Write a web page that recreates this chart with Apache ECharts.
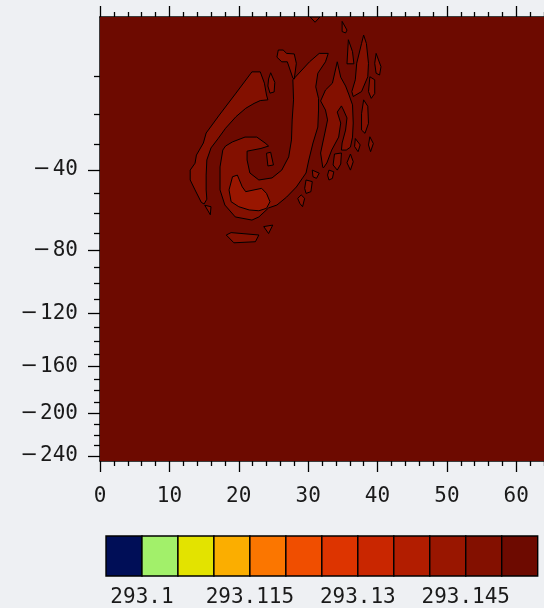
<!DOCTYPE html>
<html><head><meta charset="utf-8">
<script src="https://cdn.jsdelivr.net/npm/echarts@6/dist/echarts.min.js"></script>
<style>html,body{margin:0;padding:0;background:#eef0f3;}#c{width:544px;height:608px;}</style>
</head><body><div id="c"></div>
<script>
// ---------- data ----------
const xRange = [0, 64];
const yRange = [-245, 0];
const xMajorTicks = [0, 10, 20, 30, 40, 50, 60];
const xMinorTicks = [2,4,6,8,12,14,16,18,22,24,26,28,32,34,36,38,42,44,46,48,52,54,56,58,62,64];
const yMajorTicks = [-40, -80, -120, -160, -200, -240];
const yMinorTicks = [-10,-20,-30,-50,-60,-70,-90,-100,-110,-130,-140,-150,-170,-180,-190,-210,-220,-230];
const contourLevels = [293.1,293.105,293.11,293.115,293.12,293.125,293.13,293.135,293.14,293.145,293.15];
const colorbarEdges = [293.095,293.1,293.105,293.11,293.115,293.12,293.125,293.13,293.135,293.14,293.145,293.15,293.155];
const levelColors = ['#000e57','#a2f06a','#e3e300','#fbae00','#fb7600','#f04e00','#dd3400','#c92600','#b21d00','#991600','#831000','#6d0a00'];
const colorbarLabels = ['293.1','293.115','293.13','293.145'];
const colorbarLabelValues = [293.1, 293.115, 293.13, 293.145];

// contour regions: [x, y] vertices in data space
const domain = [[0,0],[64,0],[64,-245],[0,-245]];
const outerBand = [[21.9,-9.0],[23.1,-9.0],[23.7,-11.6],[24.0,-14.6],[24.2,-15.9],[23.1,-16.1],[22.2,-16.9],[21.0,-18.3],[19.6,-20.8],[18.1,-24.5],[17.0,-28.1],[16.0,-31.4],[15.4,-36.0],[15.3,-42.2],[15.3,-48.7],[15.4,-53.0],[15.0,-55.3],[14.6,-54.5],[13.7,-48.7],[13.0,-44.3],[13.0,-40.1],[13.7,-37.3],[13.9,-34.1],[14.9,-29.6],[15.3,-26.1],[17.2,-20.3],[19.6,-14.1]];
const hook = [[27.8,-10.8],[30.2,-6.9],[31.6,-5.3],[32.9,-5.3],[32.5,-6.9],[31.4,-9.3],[31.1,-12.5],[31.5,-15.5],[31.5,-18.8],[31.4,-24.1],[30.7,-29.6],[30.1,-36.0],[29.7,-41.3],[28.3,-47.4],[26.9,-52.0],[25.5,-55.8],[24.3,-57.2],[22.9,-61.7],[21.9,-63.3],[19.5,-61.7],[18.0,-55.8],[17.3,-48.7],[17.3,-38.8],[17.7,-32.2],[18.1,-30.7],[19.1,-29.2],[20.9,-27.5],[22.6,-27.5],[23.8,-29.6],[24.3,-30.7],[23.2,-31.6],[21.2,-32.6],[21.2,-36.0],[21.6,-41.3],[22.9,-44.3],[24.8,-43.4],[26.2,-40.1],[27.2,-34.8],[27.6,-28.5],[27.7,-21.8],[27.9,-15.9]];
const innerC = [[19.1,-42.9],[19.8,-42.2],[20.5,-47.3],[21.0,-49.5],[22.2,-48.7],[23.3,-48.0],[24.0,-50.3],[24.5,-54.2],[24.0,-57.4],[22.9,-58.6],[21.5,-58.2],[20.0,-56.6],[18.9,-54.2],[18.6,-48.7]];
const streak = [[34.2,-6.9],[34.7,-10.2],[35.4,-12.3],[35.9,-14.6],[36.4,-17.3],[36.5,-22.8],[36.4,-27.5],[36.1,-31.1],[35.5,-32.2],[34.8,-32.2],[34.9,-29.6],[35.4,-25.1],[35.6,-21.2],[35.1,-18.8],[34.8,-17.6],[34.2,-19.4],[34.7,-22.8],[34.4,-27.5],[33.4,-32.2],[32.7,-37.2],[32.2,-39.2],[32.1,-38.8],[31.8,-33.3],[32.1,-29.6],[32.5,-25.1],[32.8,-21.8],[32.5,-18.8],[31.8,-16.2],[32.5,-13.3],[33.5,-11.6]];
const innerTri = [[24.0,-33.4],[24.6,-33.0],[25.0,-38.0],[24.2,-38.4]];
const drop = [[24.6,-9.2],[25.2,-11.4],[25.1,-13.8],[24.5,-14.1],[24.2,-12.3],[24.3,-10.6]];
const wedge = [[25.7,-4.7],[26.4,-4.7],[26.9,-5.3],[28.0,-5.4],[28.3,-7.2],[28.0,-10.6],[27.8,-10.4],[27.0,-6.9],[26.2,-6.9],[25.5,-6.0]];
const topNotch = [[30.3,0],[31.7,0],[31.0,-0.6]];
const sliverA = [[34.9,-0.5],[35.6,-1.6],[35.4,-2.0],[34.9,-1.8]];
const sliverB = [[35.8,-3.0],[36.4,-5.0],[36.6,-7.3],[35.6,-7.3]];
const sliverC = [[38.0,-2.3],[38.4,-3.6],[38.7,-7.2],[38.6,-10.1],[37.7,-13.7],[36.5,-15.0],[36.3,-13.7],[36.8,-10.8],[37.0,-7.2],[37.7,-3.6]];
const sliverD = [[39.8,-5.3],[40.5,-7.9],[40.3,-9.7],[39.8,-9.3],[39.6,-7.2]];
const sliverE = [[38.9,-10.1],[39.6,-10.8],[39.6,-14.2],[39.1,-15.5],[38.7,-13.7]];
const sliverF = [[38.0,-15.9],[38.6,-17.7],[38.7,-22.9],[38.2,-26.2],[37.7,-25.1],[37.7,-19.9]];
const diamond1 = [[38.9,-27.4],[39.4,-29.8],[39.0,-32.8],[38.7,-30.3]];
const diamond2 = [[36.8,-28.0],[37.5,-30.3],[37.2,-32.8],[36.7,-30.9]];
const diamond3 = [[36.1,-33.7],[36.5,-36.7],[36.1,-40.1],[35.6,-37.1]];
const diamond4 = [[30.6,-40.1],[31.6,-41.4],[31.2,-43.6],[30.7,-42.9]];
const diamond5 = [[33.0,-40.1],[33.7,-40.8],[33.5,-43.6],[33.0,-44.3],[32.8,-42.2]];
const diamond6 = [[29.7,-44.3],[30.6,-45.0],[30.4,-49.5],[29.7,-50.3],[29.5,-48.0]];
const diamond7 = [[29.0,-51.0],[29.5,-52.6],[29.2,-56.6],[28.8,-55.0],[28.5,-52.6]];
const quad = [[33.8,-33.7],[34.8,-33.3],[34.7,-37.6],[34.2,-40.1],[33.6,-38.0]];
const triBelowC = [[23.6,-66.7],[24.9,-65.9],[24.3,-70.4]];
const bottomBand = [[18.2,-71.2],[18.9,-69.9],[22.9,-71.2],[22.4,-74.9],[19.3,-75.5]];
const triLeft = [[15.1,-55.9],[16.0,-56.6],[15.9,-60.6]];

// region list: [vertices, colour class index, outlined]
const fieldRegions = [
  [domain, 11, false],
  [outerBand, 10, true], [hook, 10, true], [streak, 10, true], [innerTri, 10, true],
  [drop, 10, true], [wedge, 10, true], [topNotch, 10, true],
  [sliverA, 10, true], [sliverB, 10, true], [sliverC, 10, true], [sliverD, 10, true],
  [sliverE, 10, true], [sliverF, 10, true],
  [diamond1, 10, true], [diamond2, 10, true], [diamond3, 10, true], [diamond4, 10, true],
  [diamond5, 10, true], [diamond6, 10, true], [diamond7, 10, true], [quad, 10, true],
  [triBelowC, 10, true], [bottomBand, 10, true], [triLeft, 10, true],
  [innerC, 9, true]
];

// ---------- chart ----------
const yT = v => -Math.sqrt(3 - v);          // irregular (stretched) depth axis
const FONT = 'DejaVu Sans Mono';
const TXT = '#1a1a1a';
const tickStyle = {color: '#000', width: 1.3};

const chart = echarts.init(document.getElementById('c'), null, {renderer: 'canvas'});
const fmtY = t => {
  const d = t * t - 3;
  let best = yMajorTicks[0];
  yMajorTicks.forEach(v => { if (Math.abs(-v - d) < Math.abs(-best - d)) best = v; });
  return '{m|\u2212}' + Math.abs(best);
};

chart.setOption({
  animation: false,
  backgroundColor: '#eef0f3',
  grid: [
    {left: 100, top: 17, width: 452.3, height: 444, containLabel: false},
    {left: 106, top: 536, width: 431.7, height: 40, containLabel: false}
  ],
  xAxis: [
    {gridIndex: 0, type: 'value', min: xRange[0], max: xRange[1], position: 'bottom',
     axisLine: {show: true, lineStyle: {color: '#000', width: 1.5}},
     axisTick: {show: true, length: 11, customValues: xMajorTicks, lineStyle: tickStyle},
     axisLabel: {show: true, customValues: xMajorTicks, margin: 25, fontSize: 21, fontFamily: FONT, color: TXT},
     splitLine: {show: false}},
    {gridIndex: 0, type: 'value', min: xRange[0], max: xRange[1], position: 'bottom',
     axisLine: {show: false},
     axisTick: {show: true, length: 5, customValues: xMinorTicks, lineStyle: tickStyle},
     axisLabel: {show: false}, splitLine: {show: false}},
    {gridIndex: 0, type: 'value', min: xRange[0], max: xRange[1], position: 'top',
     axisLine: {show: true, lineStyle: {color: '#000', width: 1.5}},
     axisTick: {show: true, length: 11, customValues: xMajorTicks, lineStyle: tickStyle},
     axisLabel: {show: false}, splitLine: {show: false}},
    {gridIndex: 0, type: 'value', min: xRange[0], max: xRange[1], position: 'top',
     axisLine: {show: false},
     axisTick: {show: true, length: 5, customValues: xMinorTicks, lineStyle: tickStyle},
     axisLabel: {show: false}, splitLine: {show: false}},
    {gridIndex: 1, type: 'value', min: colorbarEdges[0], max: colorbarEdges[colorbarEdges.length - 1],
     axisLine: {show: false}, axisTick: {show: false}, splitLine: {show: false},
     axisLabel: {show: true, customValues: colorbarLabelValues, margin: 11, fontSize: 21, fontFamily: FONT, color: TXT,
       formatter: v => colorbarLabels[colorbarLabelValues.indexOf(v)] ?? String(v)}}
  ],
  yAxis: [
    {gridIndex: 0, type: 'value', min: yT(yRange[0]), max: yT(yRange[1]), position: 'left',
     axisLine: {show: true, lineStyle: {color: '#000', width: 1.5}},
     axisTick: {show: true, length: 12, customValues: yMajorTicks.map(yT), lineStyle: tickStyle},
     axisLabel: {show: true, customValues: yMajorTicks.map(yT), margin: 22, fontSize: 21, fontFamily: FONT, color: TXT, formatter: fmtY,
       rich: {m: {fontFamily: 'DejaVu Sans', fontSize: 21, color: TXT, padding: [0, 2, 0, 0]}}},
     splitLine: {show: false}},
    {gridIndex: 0, type: 'value', min: yT(yRange[0]), max: yT(yRange[1]), position: 'left',
     axisLine: {show: false},
     axisTick: {show: true, length: 6, customValues: yMinorTicks.map(yT), lineStyle: tickStyle},
     axisLabel: {show: false}, splitLine: {show: false}},
    {gridIndex: 1, type: 'value', min: 0, max: 1, show: false}
  ],
  series: [
    {type: 'custom', xAxisIndex: 0, yAxisIndex: 0, clip: true, z: 1,
     data: fieldRegions.map((r, i) => [i]),
     encode: {x: -1, y: -1},
     renderItem: (params, api) => {
       const r = fieldRegions[params.dataIndex];
       const pts = r[0].map(p => api.coord([p[0], yT(p[1])]));
       return {type: 'polygon', shape: {points: pts},
         style: {fill: levelColors[r[1]], stroke: r[2] ? '#000' : null, lineWidth: r[2] ? 1 : 0}};
     }},
    {type: 'custom', xAxisIndex: 4, yAxisIndex: 2, z: 2,
     data: levelColors.map((c, i) => [colorbarEdges[i], colorbarEdges[i + 1], i]),
     encode: {x: [0, 1], y: -1},
     renderItem: (params, api) => {
       const lo = api.value(0), hi = api.value(1);
       const a = api.coord([lo, 1]), b = api.coord([hi, 0]);
       return {type: 'rect', shape: {x: a[0], y: a[1], width: b[0] - a[0], height: b[1] - a[1]},
         style: {fill: levelColors[api.value(2)], stroke: '#000', lineWidth: 1.4}};
     }}
  ]
});
</script></body></html>
